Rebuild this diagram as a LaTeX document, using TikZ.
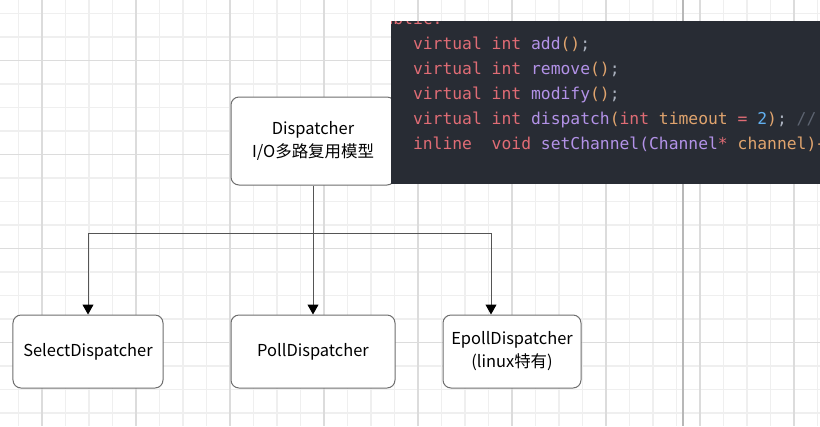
\documentclass[tikz,border=0pt]{standalone}
\usepackage{fontspec}
\setmainfont{Noto Sans CJK SC}
\newfontfamily\codefont{DejaVu Sans Mono}
\usetikzlibrary{arrows.meta}
\definecolor{codebg}{HTML}{282C34}
\definecolor{kw}{HTML}{E06C75}
\definecolor{fn}{HTML}{B392E8}
\definecolor{org}{HTML}{E0A46E}
\definecolor{num}{HTML}{61AFEF}
\definecolor{punc}{HTML}{ABB2BF}
\definecolor{com}{HTML}{5C6370}
\definecolor{minorgrid}{HTML}{EFEFEF}
\definecolor{majorgrid}{HTML}{DCDCDC}
\definecolor{pageline}{HTML}{B8B8B8}
\definecolor{boxline}{HTML}{6E6E6E}
\definecolor{connline}{HTML}{555555}
\tikzset{
  minorline/.style={draw=minorgrid, line width=1.3bp},
  majorline/.style={draw=majorgrid, line width=1.4bp},
  classbox/.style={draw=boxline, line width=1bp, rounded corners=8bp, fill=white,
    align=center, inner sep=0pt, font=\fontsize{16.5}{23}\selectfont},
  conn/.style={draw=connline, line width=1bp},
  arrowconn/.style={conn, -{Stealth[inset=0pt, length=10bp, width=11bp, color=black]}},
  codeline/.style={anchor=base west, inner sep=0pt, font=\codefont\fontsize{16.4}{25}\selectfont}
}
\begin{document}
\begin{tikzpicture}[x=1bp,y=-1bp]
\useasboundingbox (0,0) rectangle (820,426);
\fill[white] (0,0) rectangle (820,426);
% grid
\foreach \i in {0,...,34} {\pgfmathsetmacro\gx{18.5+23.5*\i}\draw[minorline] (\gx,0) -- (\gx,426);}
\foreach \i in {0,...,18} {\pgfmathsetmacro\gy{13.5+23.5*\i}\draw[minorline] (0,\gy) -- (820,\gy);}
\foreach \i in {0,...,8} {\pgfmathsetmacro\gx{42+94*\i}\draw[majorline] (\gx,0) -- (\gx,426);}
\foreach \i in {0,...,3} {\pgfmathsetmacro\gy{60.5+94*\i}\draw[majorline] (0,\gy) -- (820,\gy);}
\draw[draw=pageline, line width=1.8bp] (683,0) -- (683,426);

% nodes
\node[classbox, minimum width=164bp, minimum height=88bp] (disp) at (313,141) {Dispatcher\\I/O多路复用模型};
\node[classbox, minimum width=150bp, minimum height=73bp] (sel) at (88,351.5) {SelectDispatcher};
\node[classbox, minimum width=164bp, minimum height=73bp] (poll) at (313,351.5) {PollDispatcher};
\node[classbox, minimum width=138bp, minimum height=73bp] (epoll) at (512,351.5) {EpollDispatcher\\(linux特有)};

% connectors
\coordinate (jn) at (313,233);
\coordinate (jl) at (88,233);
\coordinate (jr) at (491,233);
\draw[conn] (disp.south) -- (jn);
\draw[conn] (jl) -- (jr);
\draw[arrowconn] (jl) -- (sel.north);
\draw[arrowconn] (jn) -- (poll.north);
\draw[arrowconn] (jr) -- (jr |- epoll.north);

% code panel
\fill[codebg] (391,21) rectangle (830,184);
\begin{scope}
\clip (391,21) rectangle (820,184);
\node[codeline] (c0) at (373.5,24) {\textcolor{kw}{public:}};
\node[codeline] (c1) at (373.5,49) {~~~~\textcolor{kw}{virtual}~\textcolor{kw}{int}~\textcolor{fn}{add}\textcolor{org}{()}\textcolor{punc}{;}};
\node[codeline] (c2) at (373.5,74) {~~~~\textcolor{kw}{virtual}~\textcolor{kw}{int}~\textcolor{fn}{remove}\textcolor{org}{()}\textcolor{punc}{;}};
\node[codeline] (c3) at (373.5,99) {~~~~\textcolor{kw}{virtual}~\textcolor{kw}{int}~\textcolor{fn}{modify}\textcolor{org}{()}\textcolor{punc}{;}};
\node[codeline] (c4) at (373.5,124.5) {~~~~\textcolor{kw}{virtual}~\textcolor{kw}{int}~\textcolor{fn}{dispatch}\textcolor{org}{(}\textcolor{kw}{int}~\textcolor{org}{timeout}~\textcolor{kw}{=}~\textcolor{num}{2}\textcolor{org}{)}\textcolor{punc}{;}~\textcolor{com}{//}};
\node[codeline] (c5) at (373.5,149.5) {~~~~\textcolor{kw}{inline}~~\textcolor{kw}{void}~\textcolor{fn}{setChannel}\textcolor{fn}{(Channel}\textcolor{kw}{*}~\textcolor{org}{channel)\{}};
\end{scope}
\end{tikzpicture}
\end{document}
